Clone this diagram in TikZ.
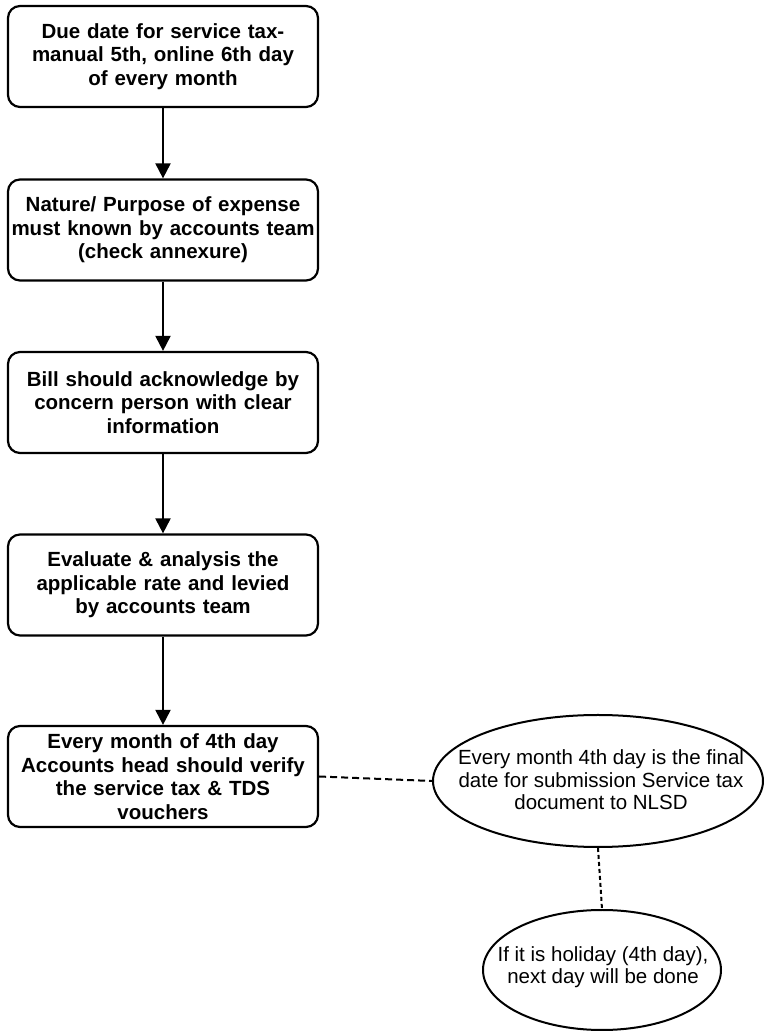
\documentclass[tikz,border=0pt]{standalone}
\usepackage{fontspec}
\setmainfont{Liberation Sans}
\usetikzlibrary{shapes.geometric,arrows.meta}
\begin{document}
\begin{tikzpicture}[x=1pt,y=1pt,
  stepbox/.style={draw, line width=2.2pt, rounded corners=12pt, minimum width=310pt, minimum height=101pt, align=center, inner sep=2pt, font=\fontsize{20.5}{23.5}\selectfont\bfseries, text width=306pt},
  note/.style={draw, ellipse, line width=2pt, inner sep=0pt},
  notetext/.style={align=center, inner sep=0pt, font=\fontsize{20.5}{22.5}\selectfont},
  flow/.style={line width=2pt, -{Triangle[length=15pt,width=15pt]}},
  link/.style={line width=2pt, dashed, dash pattern=on 7pt off 4pt}]
\useasboundingbox (0,0) rectangle (765,1033);
\node[stepbox] (b1) at (163,976.5) {Due date for service tax-\\manual 5th, online 6th day\\of every month};
\node[stepbox] (b2) at (163,803) {Nature/ Purpose of expense\\must known by accounts team\\(check annexure)};
\node[stepbox] (b3) at (163,630.5) {Bill should acknowledge by\\concern person with clear\\information};
\node[stepbox] (b4) at (163,448) {Evaluate \& analysis the\\applicable rate and levied\\by accounts team};
\node[stepbox] (b5) at (163,256.5) {Every month of 4th day\\Accounts head should verify\\the service tax \& TDS\\vouchers};
\node[note, minimum width=330pt, minimum height=132pt] (e1) at (598,252) {};
\node[notetext] (t1) at (601,253) {Every month 4th day is the final\\date for submission Service tax\\document to NLSD};
\node[note, minimum width=238pt, minimum height=120pt] (e2) at (602,63) {};
\node[notetext] (t2) at (603,66) {If it is holiday (4th day),\\next day will be done};
\draw[flow] (b1) -- (b2);
\draw[flow] (b2) -- (b3);
\draw[flow] (b3) -- (b4);
\draw[flow] (b4) -- (b5);
\draw[link] (b5.east) -- (e1.west);
\draw[link, dash pattern=on 4pt off 3pt] (e1.south) -- (e2.north);
\end{tikzpicture}
\end{document}
